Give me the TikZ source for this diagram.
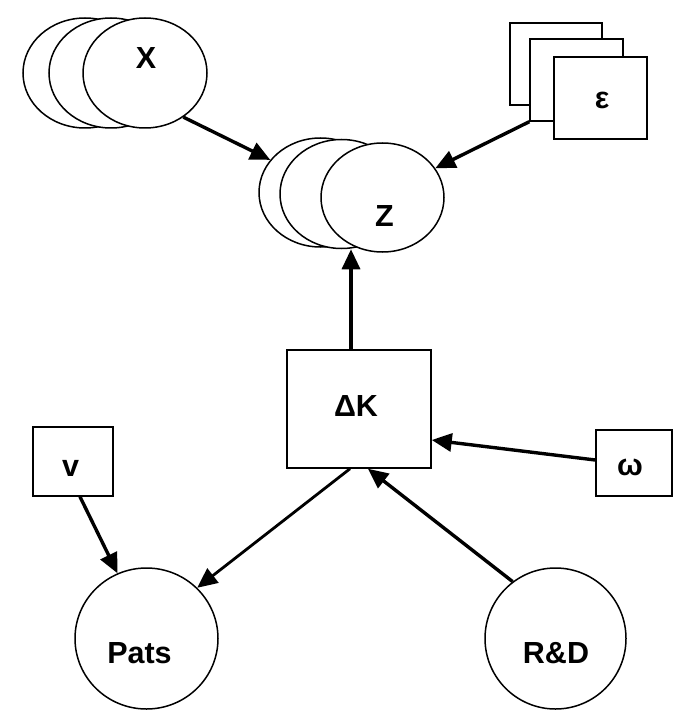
\documentclass[tikz,border=0pt]{standalone}
\usepackage{fontspec}
\setmainfont{Liberation Sans}
\usetikzlibrary{shapes.geometric,arrows.meta}
\tikzset{
  ell/.style={ellipse, draw, fill=white, line width=1.5pt, inner sep=0pt},
  box/.style={rectangle, draw, fill=white, line width=1.5pt, inner sep=0pt},
  arr/.style={line width=3.4pt, -{Triangle[length=20pt,width=18pt]}},
  lab/.style={font=\fontsize{30.5}{36}\selectfont\bfseries, inner sep=0pt}
}
\begin{document}
\begin{tikzpicture}[x=1pt,y=-1pt]
\useasboundingbox (0,0) rectangle (688,727);
% X stack
\node[ell, minimum width=124pt, minimum height=110pt] (X1) at (85,73) {};
\node[ell, minimum width=124pt, minimum height=110pt] (X2) at (111,73) {};
\node[ell, minimum width=124pt, minimum height=110pt,
      label={[lab,xshift=1pt,yshift=15pt]center:X}] (X) at (145,73) {};
% Z stack
\node[ell, minimum width=123pt, minimum height=109pt] (Z1) at (320.5,192.5) {};
\node[ell, minimum width=123pt, minimum height=109pt] (Z2) at (341.5,194) {};
\node[ell, minimum width=123pt, minimum height=109pt,
      label={[lab,xshift=2pt,yshift=-18.5pt]center:Z}] (Z) at (382.5,197.5) {};
% epsilon stack
\node[box, minimum width=92pt, minimum height=82pt] (E1) at (556,64) {};
\node[box, minimum width=93pt, minimum height=82pt] (E2) at (576.5,80) {};
\node[box, minimum width=93pt, minimum height=82pt,
      label={[lab,xshift=1.5pt,yshift=-2.5pt]center:ε}] (E) at (600.5,98) {};
% Delta K
\node[box, minimum width=144pt, minimum height=118pt,
      label={[lab,xshift=-3pt,yshift=2.5pt]center:ΔK}] (DK) at (359,409) {};
% v and omega
\node[box, minimum width=80pt, minimum height=69pt,
      label={[lab,xshift=-2.5pt,yshift=-6.5pt]center:v}] (V) at (73,461.5) {};
\node[box, minimum width=76pt, minimum height=66pt,
      label={[lab,xshift=-4pt,yshift=-4pt]center:ω}] (W) at (634,463) {};
% Pats and R&D
\node[ell, minimum width=143pt, minimum height=141pt,
      label={[lab,xshift=-7pt,yshift=-14.5pt]center:Pats}] (P) at (146.5,638.5) {};
\node[ell, minimum width=141pt, minimum height=141pt,
      label={[lab,xshift=0.5pt,yshift=-15pt]center:R\&D}] (R) at (555.5,638.5) {};
% connectors
\draw[arr] (X.-49) -- (Z1.147);
\draw[arr] (E2.south west) -- (Z.29);
\draw[arr] ([xshift=-8pt]DK.north) -- ([xshift=9.5pt]Z2.south);
\draw[arr] ([yshift=3pt]W.west) -- ([yshift=-31pt]DK.east);
\draw[arr, line width=2.8pt] ([xshift=-9pt]DK.south) -- (P.45);
\draw[arr] (R.127) -- ([xshift=9pt]DK.south);
\draw[arr] ([xshift=7pt]V.south) -- (P.114);
\end{tikzpicture}
\end{document}
